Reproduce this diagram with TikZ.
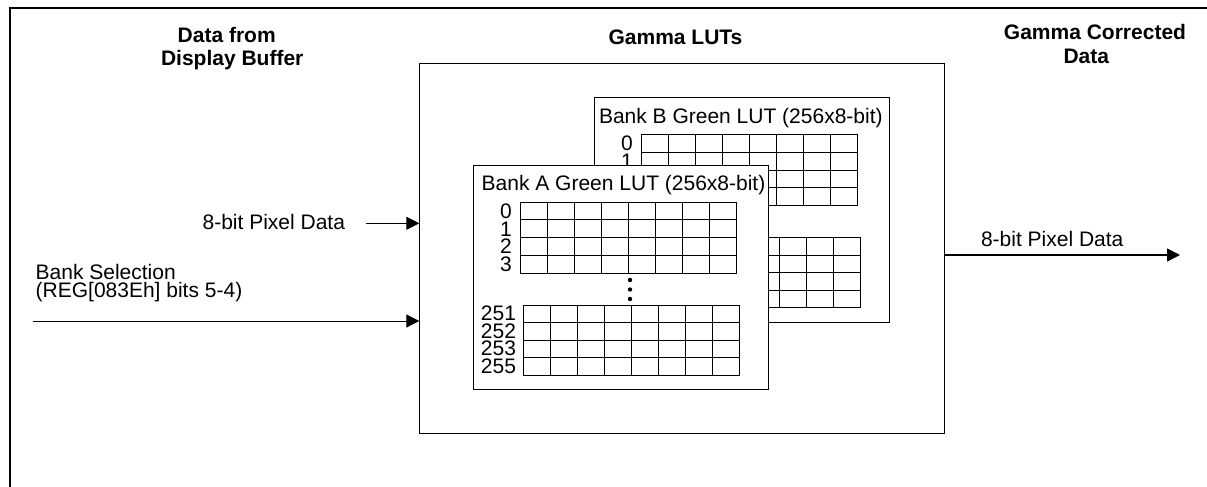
\documentclass[tikz,border=0pt]{standalone}
\usepackage{fontspec}
\setmainfont{Liberation Sans}
\usetikzlibrary{arrows.meta}
% #1 shift, #2 bank letter, #3 title x offset, #4 top-grid labels, #5 bottom-grid labels
\newcommand\drawbank[5]{%
  \begin{scope}[shift={#1}]
    \node[bankbox] (bank#2) at (0,0) {};
    \node[txt,anchor=base west] (title#2) at (#3,26) {Bank #2 Green LUT (256x8-bit)};
    % top grid
    \draw[gridline] (47,37.6) rectangle (263,108.3);
    \foreach \i in {1,...,7} \draw[gridline] (47+\i*27,37.6) -- (47+\i*27,108.3);
    \foreach \j in {1,2,3} \draw[gridline] (47,37.6+\j*17.675) -- (263,37.6+\j*17.675);
    % bottom grid
    \draw[gridline] (49.7,140.3) rectangle (265.7,210.3);
    \foreach \i in {1,...,7} \draw[gridline] (49.7+\i*27,140.3) -- (49.7+\i*27,210.3);
    \foreach \j in {1,2,3} \draw[gridline] (49.7,140.3+\j*17.5) -- (265.7,140.3+\j*17.5);
    % labels
    \foreach \t [count=\k from 0] in {#4}
      \node[txt,anchor=east] (r#2\t) at (38.4,46.4+\k*17.675) {\t};
    \foreach \t [count=\k from 0] in {#5}
      \node[txt,anchor=east] (r#2\t) at (42.7,149.05+\k*17.5) {\t};
    % dots
    \foreach \d in {115.3,124.8,134.3} \fill (156.7,\d) circle (2.2);
  \end{scope}}
\tikzset{
  txt/.style={inner sep=0pt, outer sep=0pt, font=\fontsize{21pt}{23pt}\selectfont},
  hdr/.style={txt, font=\fontsize{21pt}{23pt}\selectfont\bfseries, anchor=base},
  bankbox/.style={draw, fill=white, line width=1.1pt, anchor=north west, inner sep=0pt,
    minimum width=295pt, minimum height=224.6pt},
  gridline/.style={line width=1pt},
  arr/.style={line width=1pt, -{Triangle[length=13pt,width=13pt]}},
  arrthick/.style={line width=1.6pt, -{Triangle[length=13pt,width=13pt]}},
}
\begin{document}
\begin{tikzpicture}[x=1pt,y=-1pt]
  \useasboundingbox (0,0) rectangle (1207,487);
  % outer frame
  \draw[line width=2pt] (10,487) -- (10,8) -- (1207,8);
  % headers
  \node[hdr] (h1a) at (226.7,42.3) {Data from};
  \node[hdr] (h1b) at (232.2,65.7) {Display Buffer};
  \node[hdr] (h2) at (675.5,45) {Gamma LUTs};
  \node[hdr] (h3a) at (1095,40) {Gamma Corrected};
  \node[hdr] (h3b) at (1086.3,63.3) {Data};
  % gamma LUT box
  \node[draw, line width=1.1pt, anchor=north west, inner sep=0pt,
        minimum width=525pt, minimum height=370pt] (lut) at (419.3,63.3) {};
  % banks (B lies behind A; only its visible labels are drawn)
  \drawbank{(594.3,97.3)}{B}{4.7}{0,1}{}
  \drawbank{(473.3,164.7)}{A}{8.4}{0,1,2,3}{251,252,253,255}
  % inputs
  \node[txt,anchor=base east] (pix) at (345,229.3) {8-bit Pixel Data};
  \coordinate (pixs) at (366,223.3);
  \draw[arr] (pixs) -- (pixs -| lut.west);
  \node[txt,anchor=north west,align=left,
        font=\fontsize{21pt}{17.3pt}\selectfont] (bs) at (35.7,264.7)
        {Bank Selection\\(REG[083Eh] bits 5-4)};
  \coordinate (bss) at (33.3,321);
  \draw[arr] (bss) -- (bss -| lut.west);
  % output
  \coordinate (oute) at (1180,255);
  \draw[arrthick] (oute -| lut.east) -- (oute);
  \node[txt,anchor=base west] (pout) at (981,246) {8-bit Pixel Data};
\end{tikzpicture}
\end{document}
